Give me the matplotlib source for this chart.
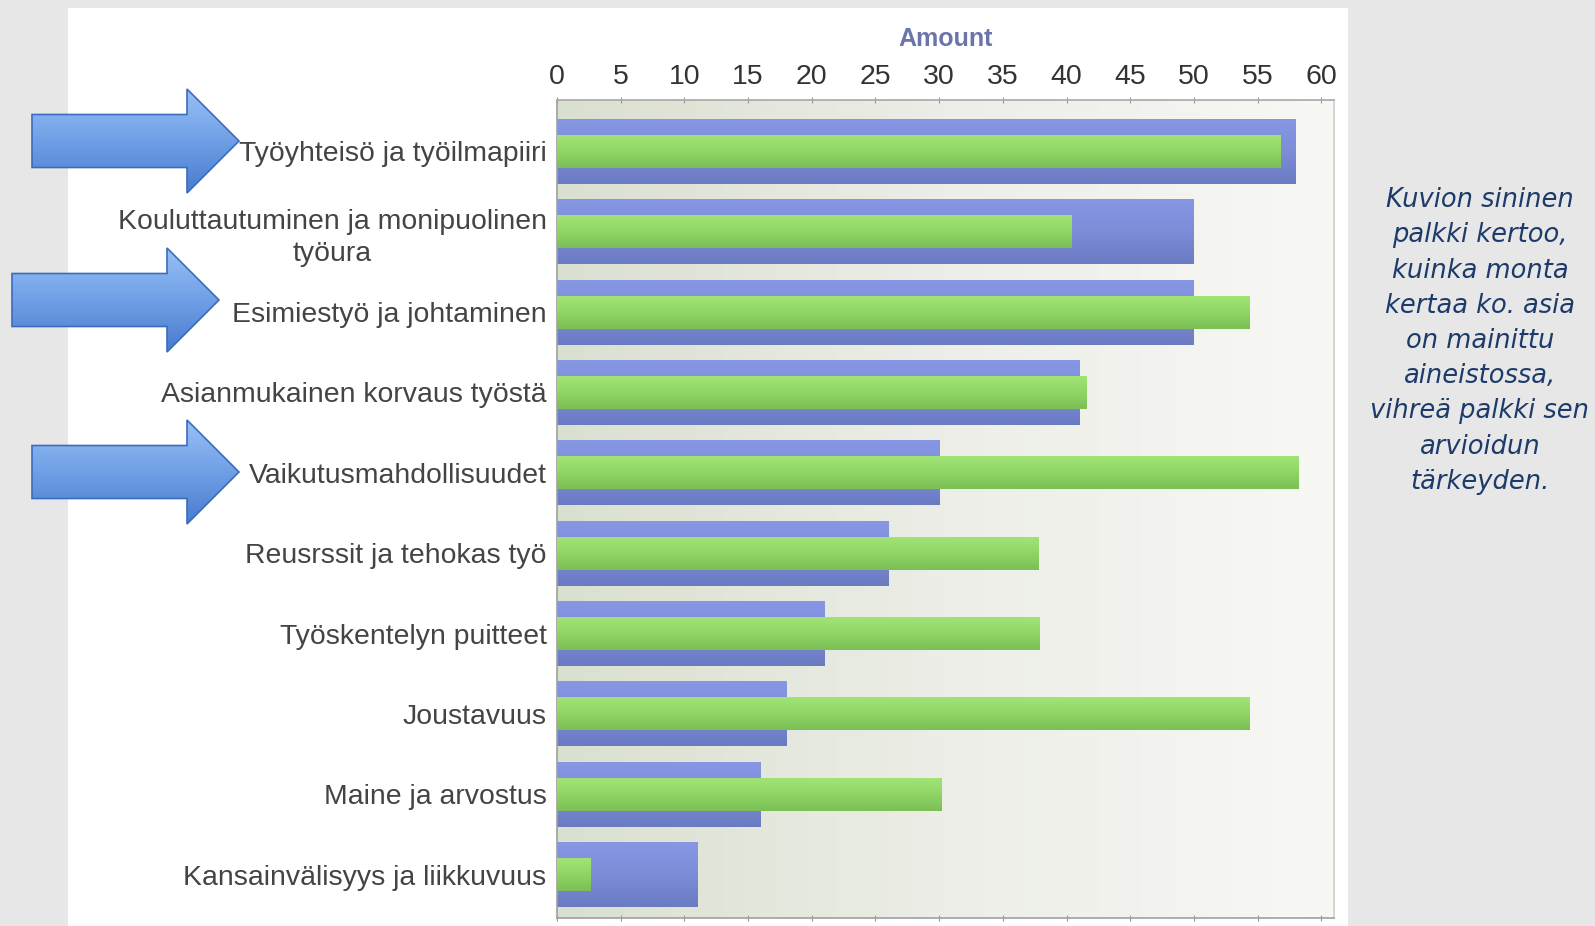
import numpy as np
import matplotlib.pyplot as plt
from matplotlib.colors import LinearSegmentedColormap
from matplotlib.patches import Rectangle, Polygon

# ----- data -----
categories = [
    "Työyhteisö ja työilmapiiri",
    "Kouluttautuminen ja monipuolinen\ntyöura",
    "Esimiestyö ja johtaminen",
    "Asianmukainen korvaus työstä",
    "Vaikutusmahdollisuudet",
    "Reusrssit ja tehokas työ",
    "Työskentelyn puitteet",
    "Joustavuus",
    "Maine ja arvostus",
    "Kansainvälisyys ja liikkuvuus",
]
mentions = [58, 50, 50, 41, 30, 26, 21, 18, 16, 11]            # blue
importance = [56.8, 40.4, 54.4, 41.6, 58.2, 37.8, 37.9, 54.4, 30.2, 2.6]  # green
x_ticks = list(range(0, 61, 5))

note_lines = ["Kuvion sininen", "palkki kertoo,", "kuinka monta", "kertaa ko. asia",
              "on mainittu", "aineistossa,", "vihreä palkki sen", "arvioidun", "tärkeyden."]

W, H = 1595, 926

plt.rcParams['font.family'] = ['Liberation Sans', 'DejaVu Sans']

fig = plt.figure(figsize=(W / 100, H / 100), dpi=100)
fig.patch.set_facecolor('#e7e7e7')

# white panel behind the chart
fig.add_artist(Rectangle((68 / W, 0), (1348 - 68) / W, 1 - 8 / H,
                         transform=fig.transFigure, facecolor='white',
                         edgecolor='none', zorder=0))

ax = fig.add_axes([557 / W, 8 / H, (1334 - 557) / W, (918 - 100) / H])
x_max = 61
y_top, y_bot = -0.64, 9.54

# plot background: horizontal gradient
bg_cmap = LinearSegmentedColormap.from_list('bg', ['#dae0d0', '#eceee7', '#f8f8f5'])
ax.imshow(np.linspace(0, 1, 256).reshape(1, -1), cmap=bg_cmap, aspect='auto',
          extent=[0, x_max, y_bot, y_top], zorder=0)

pos = np.arange(len(categories))
blue_bars = ax.barh(pos, mentions, height=0.81, color='#7585d2', zorder=2)
green_bars = ax.barh(pos, importance, height=0.41, color='#8cd363', zorder=3)

blue_cmap = LinearSegmentedColormap.from_list('bl', ['#8797e4', '#7d8dd8', '#6a7bc2'])
green_cmap = LinearSegmentedColormap.from_list('gr', ['#a0e475', '#8fd565', '#7bbf55'])
grad = np.linspace(0, 1, 64).reshape(-1, 1)


def shade(bars, cmap, z):
    for b in bars:
        x0, y0 = b.get_x(), b.get_y()
        w, h = b.get_width(), b.get_height()
        im = ax.imshow(grad, cmap=cmap, aspect='auto', origin='upper',
                       extent=[x0, x0 + w, y0 + h, y0], zorder=z)
        im.set_clip_path(b)


shade(blue_bars, blue_cmap, 2.1)
shade(green_bars, green_cmap, 3.1)

ax.set_xlim(0, x_max)
ax.set_ylim(y_bot, y_top)
ax.set_aspect('auto')

ax.set_yticks(pos)
ax.set_yticklabels(categories, multialignment='center', linespacing=1.3)
ax.set_xticks(x_ticks)
ax.xaxis.tick_top()
ax.tick_params(axis='x', top=True, bottom=True, labeltop=True, labelbottom=False,
               direction='inout', length=5, color='#999999', labelsize=20.5,
               labelcolor='#333333', pad=5)
ax.tick_params(axis='y', left=False, labelsize=20.4, labelcolor='#444444', pad=4)
ax.xaxis.set_label_position('top')
ax.set_xlabel('Amount', fontsize=18, fontweight='bold', color='#6c74ac', labelpad=13)

for side, c in [('top', '#a8a8a8'), ('left', '#a0a0a0'), ('right', '#d0d0d0'), ('bottom', '#a0a0a0')]:
    ax.spines[side].set_color(c)
    ax.spines[side].set_linewidth(1.2)

# block arrows pointing at three categories (figure pixel coords)
ov = fig.add_axes([0, 0, 1, 1], zorder=5)
ov.axis('off')
ov.patch.set_alpha(0)

arrow_cmap = LinearSegmentedColormap.from_list('ar', ['#98c0f6', '#6f9fe6', '#4a7ccd'])
for left, cy in [(32, 141), (12, 300), (32, 472)]:
    base, tip = left + 155, left + 207
    pts = [(left, cy - 26.5), (base, cy - 26.5), (base, cy - 52), (tip, cy),
           (base, cy + 52), (base, cy + 26.5), (left, cy + 26.5)]
    poly = Polygon(pts, closed=True, facecolor='none', edgecolor='#3c6cbc', lw=1.2, zorder=6)
    ov.add_patch(poly)
    im = ov.imshow(grad, cmap=arrow_cmap, aspect='auto', origin='upper',
                   extent=[left, tip, cy + 52, cy - 52], zorder=5)
    im.set_clip_path(poly)
ov.set_xlim(0, W)
ov.set_ylim(H, 0)

fig.text(1480 / W, 1 - 341 / H, "\n".join(note_lines), ha='center', va='center',
         multialignment='center', fontsize=18.5, style='italic', color='#1d3b6a',
         family='DejaVu Sans', linespacing=1.46)

fig.savefig('out.png', dpi=100)
